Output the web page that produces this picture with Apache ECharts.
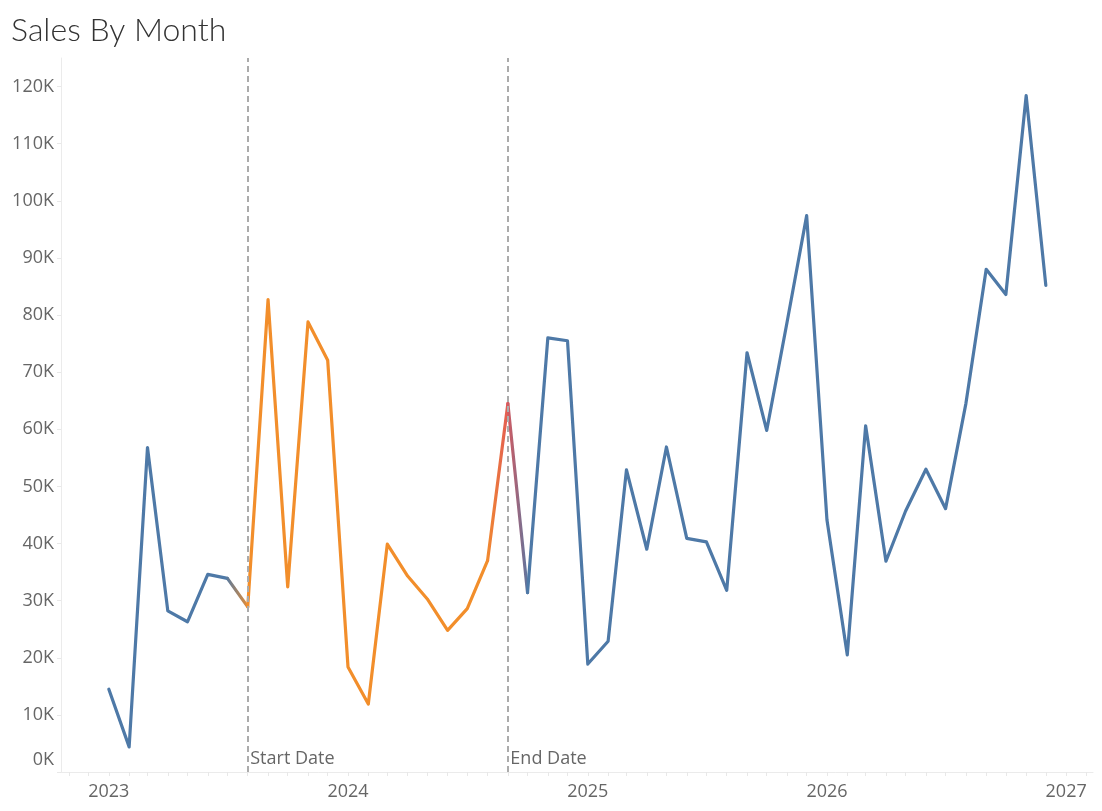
<!DOCTYPE html>
<html>
<head>
<meta charset="utf-8">
<title>Sales By Month</title>
<script src="https://cdn.jsdelivr.net/npm/echarts@6/dist/echarts.min.js"></script>
<style>
  html, body { margin: 0; padding: 0; background: #fff; }
  #chart { width: 1102px; height: 811px; }
</style>
</head>
<body>
<div id="chart"></div>
<script>
// monthly sales
const sales2023 = [14500, 4400, 56800, 28200, 26300, 34600, 33900, 28900, 82700, 32400, 78800, 72100]
const sales2024 = [18400, 11900, 39900, 34300, 30300, 24800, 28600, 37000, 64500, 31400, 76000, 75500]
const sales2025 = [18900, 22900, 52900, 39000, 56900, 40900, 40300, 31800, 73400, 59800, 78700, 97400]
const sales2026 = [44100, 20500, 60600, 36900, 45700, 53000, 46100, 64500, 88000, 83600, 118400, 85200]
const years = [2023, 2024, 2025, 2026]
const yearTicks = [2023, 2024, 2025, 2026, 2027]
const yTicks = [0, 10000, 20000, 30000, 40000, 50000, 60000, 70000, 80000, 90000, 100000, 110000, 120000]
const startDate = Date.UTC(2023, 7, 1)
const endDate = Date.UTC(2024, 8, 1)
const xMin = Date.UTC(2022, 9, 20)
const xMax = Date.UTC(2027, 1, 11)

const BLUE = '#4e79a7'
const ORANGE = '#f28e2b'
const RED = '#e15759'

const sales = [].concat(sales2023, sales2024, sales2025, sales2026)
const months = []
years.forEach(y => {
  for (let m = 0; m < 12; m++) months.push(Date.UTC(y, m, 1))
})

// colour of each point: outside range blue, inside orange, end date red
function pointColor(t) {
  if (t === endDate) return RED
  if (t >= startDate && t < endDate) return ORANGE
  return BLUE
}
const colors = months.map(pointColor)

function lineSeries(idx, color) {
  return {
    type: 'line',
    data: idx.map(i => [months[i], sales[i]]),
    symbol: 'none',
    silent: true,
    lineStyle: { width: 3.2, color: color, cap: 'round', join: 'round' }
  }
}

// split the line into runs of one colour, with blended segments in between
const series = []
let run = [0]
for (let i = 1; i < months.length; i++) {
  if (colors[i] === colors[i - 1]) { run.push(i); continue }
  if (run.length > 1) series.push(lineSeries(run, colors[run[0]]))
  const grad = new echarts.graphic.LinearGradient(0, 0, 1, 0, [
    { offset: 0, color: colors[i - 1] },
    { offset: 1, color: colors[i] }
  ])
  series.push(lineSeries([i - 1, i], grad))
  run = [i]
}
if (run.length > 1) series.push(lineSeries(run, colors[run[0]]))

// reference lines for start / end date
series[0].markLine = {
  silent: true,
  symbol: 'none',
  label: { show: false },
  lineStyle: { type: [6, 4], color: '#ababab', width: 2 },
  data: [{ xAxis: startDate }, { xAxis: endDate }]
}
series[0].markPoint = {
  silent: true,
  symbol: 'rect',
  symbolSize: 1,
  itemStyle: { color: 'rgba(0,0,0,0)' },
  label: {
    show: true,
    position: 'right',
    distance: 2,
    offset: [0, -13],
    formatter: '{b}',
    color: '#666',
    fontSize: 18,
    fontFamily: 'Open Sans'
  },
  data: [
    { name: 'Start Date', coord: [startDate, 0] },
    { name: 'End Date', coord: [endDate, 0] }
  ]
}

const monthTicks = []
for (let y = 2022; y <= 2027; y++) {
  for (let m = 0; m < 12; m++) {
    const t = Date.UTC(y, m, 1)
    if (t > xMin && t < xMax) monthTicks.push(t)
  }
}

const chart = echarts.init(document.getElementById('chart'))
chart.setOption({
  animation: false,
  backgroundColor: '#fff',
  title: {
    text: 'Sales By Month',
    left: 6,
    top: 10,
    textStyle: { color: '#333', fontSize: 32, fontWeight: 300, fontFamily: 'Lato' }
  },
  grid: { left: 61, right: 9, top: 58, bottom: 39 },
  xAxis: {
    type: 'value',
    min: xMin,
    max: xMax,
    splitLine: { show: false },
    axisLine: { show: true, lineStyle: { color: '#ebebeb', width: 1 } },
    axisTick: {
      show: true,
      length: 4,
      lineStyle: { color: '#e8e8e8' },
      customValues: monthTicks
    },
    axisLabel: {
      customValues: yearTicks.map(y => Date.UTC(y, 0, 1)),
      formatter: v => String(new Date(v).getUTCFullYear()),
      color: '#666',
      fontSize: 18,
      fontFamily: 'Open Sans',
      margin: 11
    }
  },
  yAxis: {
    type: 'value',
    min: 0,
    max: 125000,
    splitLine: { show: false },
    axisLine: { show: true, lineStyle: { color: '#ebebeb', width: 1 } },
    axisTick: {
      show: true,
      length: 4,
      lineStyle: { color: '#e8e8e8' },
      customValues: yTicks
    },
    axisLabel: {
      customValues: yTicks,
      formatter: v => v === 0 ? '{z|0K}' : (v / 1000) + 'K',
      color: '#666',
      fontSize: 18,
      fontFamily: 'Open Sans',
      margin: 7,
      rich: { z: { padding: [0, 0, 24, 0], color: '#666', fontSize: 18, fontFamily: 'Open Sans' } }
    }
  },
  series: series
})
</script>
</body>
</html>
